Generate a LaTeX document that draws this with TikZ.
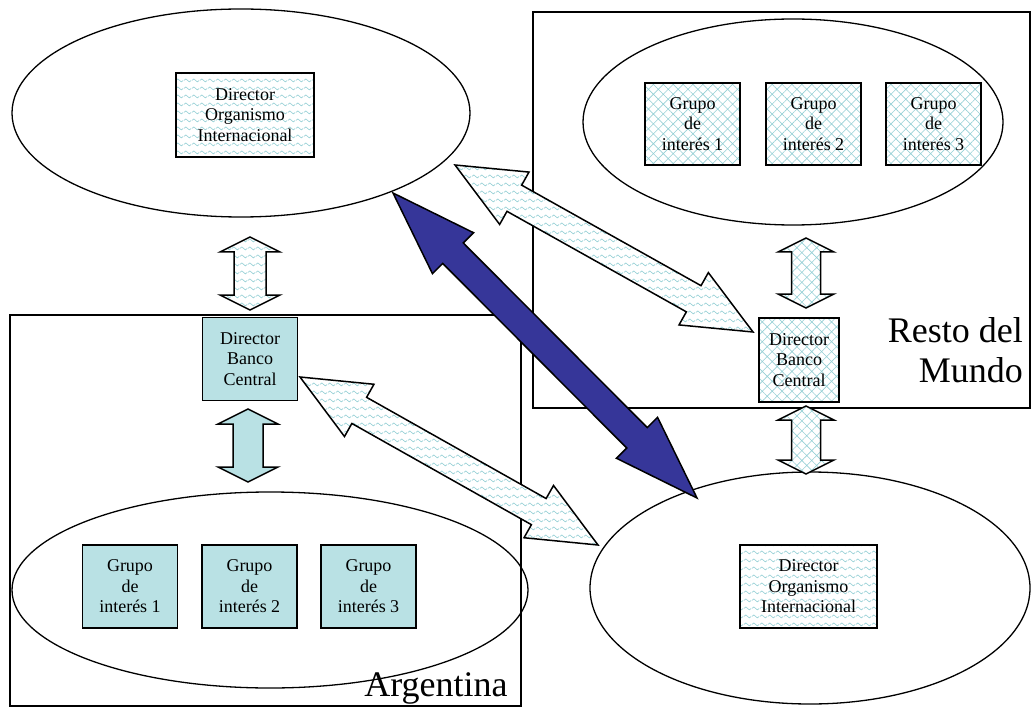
\documentclass[tikz,border=0pt]{standalone}
\usepackage{fontspec}
\setmainfont{Liberation Serif}
\usetikzlibrary{calc,shapes.geometric,patterns,patterns.meta}

\definecolor{paleblue}{RGB}{185,225,228}
\definecolor{patblue}{RGB}{150,208,214}
\definecolor{navyarrow}{RGB}{54,54,153}

% soft horizontal wave lines used as a fill
\pgfdeclarepatternformonly{softwaves}{\pgfqpoint{0pt}{0pt}}{\pgfqpoint{8pt}{8pt}}{\pgfqpoint{8pt}{8pt}}{%
  \pgfsetlinewidth{0.7pt}%
  \pgfpathmoveto{\pgfqpoint{0pt}{4pt}}%
  \pgfpathcurveto{\pgfqpoint{1.4pt}{6.2pt}}{\pgfqpoint{2.6pt}{6.2pt}}{\pgfqpoint{4pt}{4pt}}%
  \pgfpathcurveto{\pgfqpoint{5.4pt}{1.8pt}}{\pgfqpoint{6.6pt}{1.8pt}}{\pgfqpoint{8pt}{4pt}}%
  \pgfusepath{stroke}%
}

% double-headed block arrow: style, start, end, head length, head half-width, shaft half-width
\newcommand{\dblblock}[6]{%
  \draw[#1] (#2)
    -- ($(#2)!#4!(#3)!#5!90:(#3)$)
    -- ($(#2)!#4!(#3)!#6!90:(#3)$)
    -- ($(#3)!#4!(#2)!#6!-90:(#2)$)
    -- ($(#3)!#4!(#2)!#5!-90:(#2)$)
    -- (#3)
    -- ($(#3)!#4!(#2)!#5!90:(#2)$)
    -- ($(#3)!#4!(#2)!#6!90:(#2)$)
    -- ($(#2)!#4!(#3)!#6!-90:(#3)$)
    -- ($(#2)!#4!(#3)!#5!-90:(#3)$)
    -- cycle;}

\tikzset{
  region/.style={draw, line width=1.3pt, inner sep=0pt},
  arena/.style={draw, ellipse, line width=1.3pt, inner sep=0pt},
  txt/.style={font=\fontsize{18}{20.5}\selectfont, align=center},
  bigtxt/.style={font=\fontsize{36}{40}\selectfont, inner sep=0pt},
  plainbox/.style={draw, line width=1.8pt, fill=paleblue, inner sep=0pt, txt},
  wavebox/.style={draw, line width=1.8pt, preaction={fill=white}, pattern=softwaves, pattern color=patblue, inner sep=0pt, txt},
  gridbox/.style={draw, line width=1.8pt, preaction={fill=white}, pattern={Hatch[angle=45,distance=7pt,line width=0.6pt]}, pattern color=patblue, inner sep=0pt, txt},
  wavearrow/.style={draw, line width=1.5pt, line join=miter, preaction={fill=white}, pattern=softwaves, pattern color=patblue},
  gridarrow/.style={draw, line width=1.5pt, line join=miter, preaction={fill=white}, pattern={Hatch[angle=45,distance=7pt,line width=0.6pt]}, pattern color=patblue},
  plainarrow/.style={draw, line width=1.5pt, line join=miter, fill=paleblue},
  navyblock/.style={draw, line width=1.5pt, line join=miter, fill=navyarrow},
}

\begin{document}
\begin{tikzpicture}[x=1pt, y=-1pt]
\useasboundingbox (0,0) rectangle (1032,708);

% country frames
\node[region, minimum width=511pt, minimum height=391pt] (argFrame) at (265.5,510.5) {};
\node[region, minimum width=497pt, minimum height=396pt] (restFrame) at (781.5,210) {};

% arenas
\node[arena, minimum width=458pt, minimum height=208pt] (imfTop) at (241,113) {};
\node[arena, minimum width=420pt, minimum height=206pt] (restArena) at (793,122) {};
\node[arena, minimum width=516pt, minimum height=196pt] (argArena) at (270,590) {};
\node[arena, minimum width=440pt, minimum height=232pt] (imfBot) at (810,588) {};

% directors of the international body
\node[wavebox, minimum width=138pt, minimum height=84pt] (dirTop) at (245,115) {Director\\Organismo\\Internacional};
\node[wavebox, minimum width=137pt, minimum height=83pt] (dirBot) at (808.5,586.5) {Director\\Organismo\\Internacional};

% central bank directors
\node[plainbox, minimum width=95pt, minimum height=83pt] (bcArg) at (250,359) {Director\\Banco\\Central};
\node[gridbox, minimum width=80pt, minimum height=84pt] (bcRest) at (799,360) {Director\\Banco\\Central};

% interest groups, rest of the world
\node[gridbox, minimum width=95pt, minimum height=82pt] (rg1) at (692.5,124) {Grupo\\de\\interés 1};
\node[gridbox, minimum width=95pt, minimum height=82pt] (rg2) at (813.5,124) {Grupo\\de\\interés 2};
\node[gridbox, minimum width=95pt, minimum height=82pt] (rg3) at (933.5,124) {Grupo\\de\\interés 3};

% interest groups, Argentina
\node[plainbox, minimum width=95pt, minimum height=83pt] (ag1) at (130,586.5) {Grupo\\de\\interés 1};
\node[plainbox, minimum width=95pt, minimum height=83pt] (ag2) at (249.5,586.5) {Grupo\\de\\interés 2};
\node[plainbox, minimum width=95pt, minimum height=83pt] (ag3) at (368.5,586.5) {Grupo\\de\\interés 3};

% frame labels
\node[bigtxt, align=right, anchor=east] (restLabel) at (1023,350) {Resto del\\Mundo};
\node[bigtxt, align=center] (argLabel) at (436,688) {Argentina};

% arrow end points
\coordinate (vA1) at (250,237);  \coordinate (vA2) at (250,310);
\coordinate (vB1) at (248,409);  \coordinate (vB2) at (248,482);
\coordinate (vC1) at (806,238);  \coordinate (vC2) at (806,308);
\coordinate (vD1) at (806,406);  \coordinate (vD2) at (806,474);
\coordinate (dU1) at (455,165);  \coordinate (dU2) at (753,332);
\coordinate (dL1) at (300,377);  \coordinate (dL2) at (598,545);
\coordinate (dN1) at (393,193);  \coordinate (dN2) at (697,498);

% vertical links
\dblblock{wavearrow}{vA1}{vA2}{15pt}{30pt}{16pt}
\dblblock{plainarrow}{vB1}{vB2}{15pt}{30pt}{15pt}
\dblblock{gridarrow}{vC1}{vC2}{14pt}{28pt}{14.5pt}
\dblblock{gridarrow}{vD1}{vD2}{14pt}{28pt}{14.5pt}

% diagonal links
\dblblock{wavearrow}{dU1}{dU2}{68pt}{30pt}{15pt}
\dblblock{wavearrow}{dL1}{dL2}{68pt}{30pt}{15pt}
\dblblock{navyblock}{dN1}{dN2}{85pt}{29pt}{14.5pt}
\end{tikzpicture}
\end{document}
